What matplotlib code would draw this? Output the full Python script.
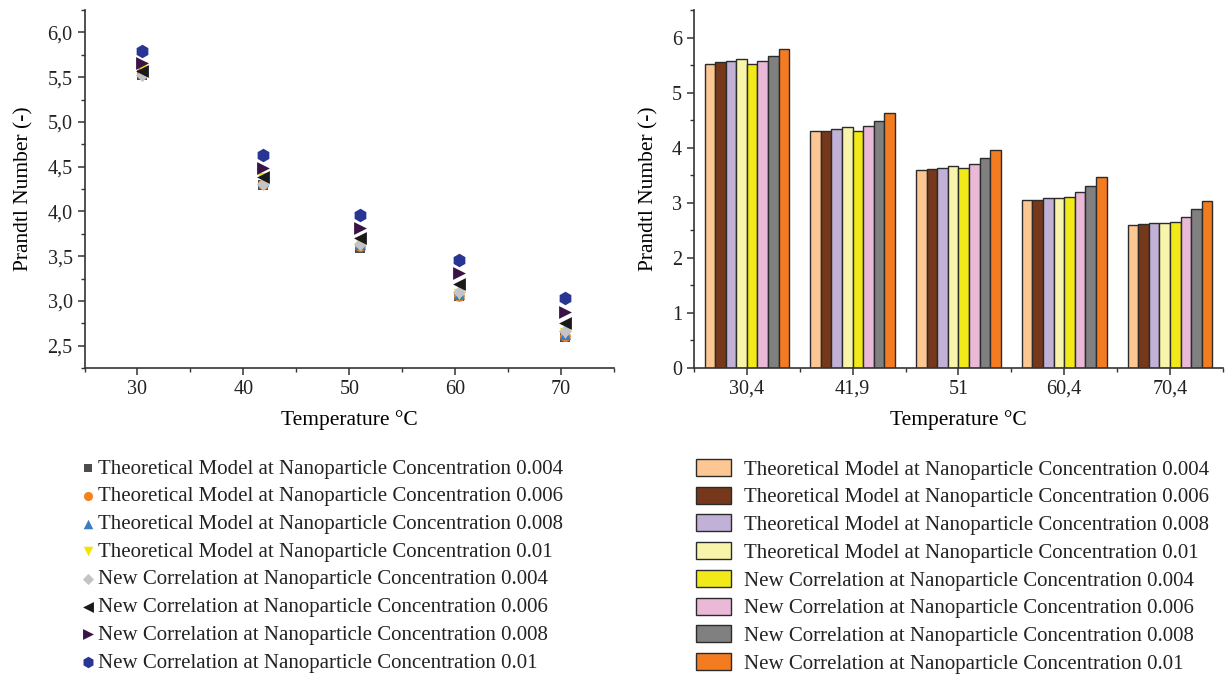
import numpy as np
import matplotlib
matplotlib.use("Agg")
import matplotlib.pyplot as plt
from matplotlib.ticker import MultipleLocator, FixedLocator

plt.rcParams['font.family'] = ['Liberation Serif', 'DejaVu Serif']
plt.rcParams['font.size'] = 14

# data
temps = [30.4, 41.9, 51, 60.4, 70.4]
temp_labels = ["30,4", "41,9", "51", "60,4", "70,4"]

labels = [
    "Theoretical Model at Nanoparticle Concentration 0.004",
    "Theoretical Model at Nanoparticle Concentration 0.006",
    "Theoretical Model at Nanoparticle Concentration 0.008",
    "Theoretical Model at Nanoparticle Concentration 0.01",
    "New Correlation at Nanoparticle Concentration 0.004",
    "New Correlation at Nanoparticle Concentration 0.006",
    "New Correlation at Nanoparticle Concentration 0.008",
    "New Correlation at Nanoparticle Concentration 0.01",
]

th_004 = [5.52, 4.30, 3.59, 3.05, 2.60]
th_006 = [5.56, 4.31, 3.61, 3.06, 2.61]
th_008 = [5.58, 4.34, 3.64, 3.08, 2.63]
th_010 = [5.61, 4.37, 3.66, 3.08, 2.64]
nc_004 = [5.52, 4.31, 3.64, 3.10, 2.66]
nc_006 = [5.57, 4.39, 3.70, 3.19, 2.75]
nc_008 = [5.66, 4.49, 3.81, 3.31, 2.88]
nc_010 = [5.79, 4.63, 3.96, 3.46, 3.03]
series = [th_004, th_006, th_008, th_010, nc_004, nc_006, nc_008, nc_010]

scatter_markers = ["s", "o", "^", "v", "D", "<", ">", "h"]
scatter_colors = ["#4d4d4d", "#f58220", "#3b7cc4", "#f2e400",
                  "#c4c4c4", "#1a1a1a", "#3a1446", "#283593"]
scatter_sizes = [45, 60, 65, 65, 45, 85, 85, 95]

bar_colors = ["#fdc794", "#75381a", "#c1b1d7", "#f8f4aa",
              "#f2ea18", "#e9b9d7", "#808080", "#f47c20"]

fig = plt.figure(figsize=(12.3, 6.74), dpi=100)

# left: scatter
ax1 = fig.add_axes([0.0687, 0.454, 0.4305, 0.531])
for vals, m, c, s, lab in zip(series, scatter_markers, scatter_colors, scatter_sizes, labels):
    ax1.scatter(temps, vals, marker=m, color=c, s=s, linewidths=0, label=lab, zorder=3)
ax1.set_xlim(25, 75)
ax1.set_ylim(2.25, 6.25)
ax1.xaxis.set_major_locator(FixedLocator([30, 40, 50, 60, 70]))
ax1.xaxis.set_minor_locator(FixedLocator([25, 35, 45, 55, 65, 75]))
ax1.yaxis.set_major_locator(FixedLocator([2.5, 3.0, 3.5, 4.0, 4.5, 5.0, 5.5, 6.0]))
ax1.yaxis.set_minor_locator(FixedLocator([2.25, 2.75, 3.25, 3.75, 4.25, 4.75, 5.25, 5.75, 6.25]))
ax1.set_yticklabels(["2,5", "3,0", "3,5", "4,0", "4,5", "5,0", "5,5", "6,0"])
ax1.set_xlabel("Temperature °C", fontsize=15.5, labelpad=8)
ax1.set_ylabel("Prandtl Number (-)", fontsize=15.5, labelpad=10)

# right: bars
ax2 = fig.add_axes([0.5642, 0.454, 0.43, 0.531])
x = np.arange(len(temps))
w = 0.1
for i, (vals, c, lab) in enumerate(zip(series, bar_colors, labels)):
    ax2.bar(x + (i - 3.5) * w, vals, width=w, color=c, edgecolor="#2b2b2b",
            linewidth=1.0, label=lab, zorder=2)
ax2.set_xlim(-0.5, 4.5)
ax2.set_ylim(0, 6.5)
ax2.set_xticks(x)
ax2.set_xticklabels(temp_labels)
ax2.xaxis.set_minor_locator(FixedLocator([-0.5, 0.5, 1.5, 2.5, 3.5, 4.5]))
ax2.yaxis.set_major_locator(MultipleLocator(1))
ax2.yaxis.set_minor_locator(MultipleLocator(0.5))
ax2.set_xlabel("Temperature °C", fontsize=15.5, labelpad=8)
ax2.set_ylabel("Prandtl Number (-)", fontsize=15.5, labelpad=10)

for ax in (ax1, ax2):
    ax.spines["top"].set_visible(False)
    ax.spines["right"].set_visible(False)
    for sp in ("left", "bottom"):
        ax.spines[sp].set_color("#333333")
        ax.spines[sp].set_linewidth(1.2)
    ax.tick_params(which="major", direction="out", length=5, width=1.1, colors="#333333",
                   labelcolor="#222222", labelsize=14.5)
    ax.tick_params(which="minor", direction="out", length=3, width=1.0, colors="#333333")

# legends
h1, l1 = ax1.get_legend_handles_labels()
fig.legend(h1, l1, loc="upper left", bbox_to_anchor=(0.0675, 0.319), frameon=False,
           fontsize=15, handlelength=0.5, handletextpad=0.2, labelspacing=0.39,
           borderpad=0, borderaxespad=0, markerscale=0.85, labelcolor="#222222")

h2, l2 = ax2.get_legend_handles_labels()
fig.legend(h2, l2, loc="upper left", bbox_to_anchor=(0.5655, 0.319), frameon=False,
           fontsize=15, handlelength=1.7, handleheight=0.87, handletextpad=0.62,
           labelspacing=0.34, borderpad=0, borderaxespad=0, labelcolor="#222222")

fig.savefig("out.png", dpi=100)
